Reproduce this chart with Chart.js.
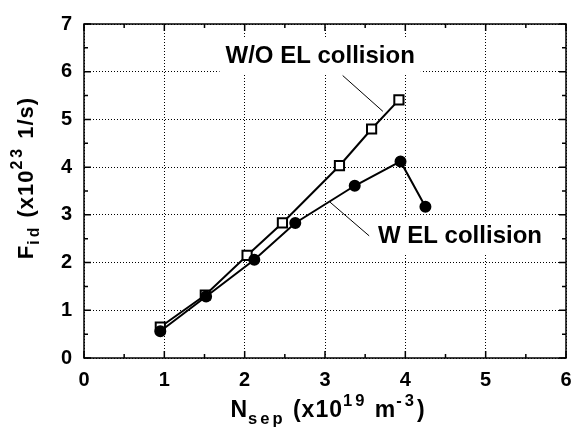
<!DOCTYPE html>
<html>
<head>
<meta charset="utf-8">
<script src="https://cdn.jsdelivr.net/npm/chart.js@4.4.1/dist/chart.umd.min.js"></script>
<style>
    html, body { margin: 0; padding: 0; background: #fff; }
</style>
</head>
<body>
<canvas id="chart" width="584" height="432"></canvas>
<script>
/* ---------- data ---------- */
var nsepWithout = [0.95, 1.51, 2.03, 2.47, 3.18, 3.58, 3.92];
var fidWithout  = [0.65, 1.32, 2.15, 2.83, 4.03, 4.80, 5.41];
var nsepWith    = [0.95, 1.52, 2.12, 2.63, 3.37, 3.94, 4.25];
var fidWith     = [0.56, 1.29, 2.06, 2.83, 3.61, 4.12, 3.17];
var xTickValues = [0, 1, 2, 3, 4, 5, 6];
var yTickValues = [0, 1, 2, 3, 4, 5, 6, 7];
var seriesLabels = ['W/O EL collision', 'W EL collision'];

var FONT = '"Liberation Sans", Arial, Helvetica, sans-serif';

function toPoints(xs, ys) {
    return xs.map(function (x, i) { return { x: x, y: ys[i] }; });
}

// annotation labels and leader lines, anchored in data units
var notes = [
    { text: seriesLabels[0], x: 2.94, y: 6.35, from: [3.22, 5.92], to: [3.72, 5.17] },
    { text: seriesLabels[1], x: 4.68, y: 2.58, from: [3.06, 3.27], to: [3.55, 2.56] }
];

/* ---------- rich text helper (sub / superscripts) ---------- */
function drawRich(ctx, parts, cx, cy, size, angle) {
    ctx.save();
    ctx.translate(cx, cy);
    ctx.rotate(angle || 0);
    ctx.textBaseline = 'middle';
    ctx.textAlign = 'left';
    ctx.fillStyle = '#000';
    var total = 0;
    parts.forEach(function (p) {
        p.fs = p.k === 'n' ? size : size * 0.72;
        p.gap = p.k === 'n' ? 1 : 3;
        ctx.font = 'bold ' + p.fs + 'px ' + FONT;
        p.w = 0;
        p.t.split('').forEach(function (ch) { p.w += ctx.measureText(ch).width + p.gap; });
        total += p.w;
    });
    var x = -total / 2;
    parts.forEach(function (p) {
        ctx.font = 'bold ' + p.fs + 'px ' + FONT;
        var dy = p.k === 'sub' ? size * 0.36 : (p.k === 'sup' ? -size * 0.42 : 0);
        p.t.split('').forEach(function (ch) {
            ctx.fillText(ch, x, dy);
            x += ctx.measureText(ch).width + p.gap;
        });
    });
    ctx.restore();
}

/* ---------- plugin: labels, frame, minor ticks, titles ---------- */
var decor = {
    id: 'figDecor',
    afterDraw: function (chart) {
        var ctx = chart.ctx, a = chart.chartArea;
        var xs = chart.scales.x, ys = chart.scales.y;

        ctx.save();
        ctx.font = 'bold 24px ' + FONT;
        ctx.textAlign = 'center';
        ctx.textBaseline = 'middle';
        notes.forEach(function (n) {
            var px = xs.getPixelForValue(n.x), py = ys.getPixelForValue(n.y);
            var w = ctx.measureText(n.text).width;
            ctx.fillStyle = '#fff';
            ctx.fillRect(px - w / 2 - 6, py - 17, w + 12, 36);
            ctx.fillStyle = '#000';
            ctx.fillText(n.text, px, py + 1);
            ctx.beginPath();
            ctx.lineWidth = 1;
            ctx.strokeStyle = '#000';
            ctx.moveTo(xs.getPixelForValue(n.from[0]), ys.getPixelForValue(n.from[1]));
            ctx.lineTo(xs.getPixelForValue(n.to[0]), ys.getPixelForValue(n.to[1]));
            ctx.stroke();
        });

        ctx.strokeStyle = '#000';
        ctx.lineWidth = 1.5;
        ctx.strokeRect(a.left, a.top, a.right - a.left, a.bottom - a.top);
        ctx.beginPath();
        var v, p, len;
        for (v = 0; v <= 6; v += 0.5) {
            p = xs.getPixelForValue(v);
            len = v % 1 === 0 ? 7 : 4;
            ctx.moveTo(p, a.bottom); ctx.lineTo(p, a.bottom - len);
            ctx.moveTo(p, a.top); ctx.lineTo(p, a.top + len);
        }
        for (v = 0; v <= 7; v += 0.5) {
            p = ys.getPixelForValue(v);
            len = v % 1 === 0 ? 7 : 4;
            ctx.moveTo(a.left, p); ctx.lineTo(a.left + len, p);
            ctx.moveTo(a.right, p); ctx.lineTo(a.right - len, p);
        }
        ctx.stroke();
        ctx.restore();

        drawRich(ctx, [
            { t: 'N', k: 'n' }, { t: 'sep', k: 'sub' }, { t: ' (x10', k: 'n' },
            { t: '19', k: 'sup' }, { t: ' m', k: 'n' }, { t: '-3', k: 'sup' }, { t: ')', k: 'n' }
        ], (a.left + a.right) / 2 + 3, 411, 23, 0);

        drawRich(ctx, [
            { t: 'F', k: 'n' }, { t: 'id', k: 'sub' }, { t: ' (x10', k: 'n' },
            { t: '23', k: 'sup' }, { t: ' 1/s)', k: 'n' }
        ], 27, 178, 22, -Math.PI / 2);
    }
};

/* ---------- chart ---------- */
var tickFont = { family: FONT, size: 20, weight: 'bold' };

new Chart(document.getElementById('chart'), {
    type: 'scatter',
    data: {
        datasets: [
            {
                label: seriesLabels[1],
                data: toPoints(nsepWith, fidWith),
                showLine: true,
                borderColor: '#000',
                borderWidth: 2,
                pointStyle: 'circle',
                pointRadius: 5,
                backgroundColor: '#000'
            },
            {
                label: seriesLabels[0],
                data: toPoints(nsepWithout, fidWithout),
                showLine: true,
                borderColor: '#000',
                borderWidth: 2,
                pointStyle: 'rect',
                pointRadius: 6.5,
                backgroundColor: '#fff'
            }
        ]
    },
    options: {
        responsive: false,
        animation: false,
        layout: { padding: { top: 13, right: 18, left: 0, bottom: 0 } },
        plugins: { legend: { display: false } },
        scales: {
            x: {
                min: 0, max: 6,
                afterFit: function (s) { s.height = 74; },
                grid: { color: '#000', lineWidth: 1, drawTicks: false },
                border: { display: false, dash: [1, 2] },
                ticks: { font: tickFont, color: '#000', padding: 10, stepSize: 1 }
            },
            y: {
                min: 0, max: 7,
                afterFit: function (s) { s.width = 84; },
                grid: { color: '#000', lineWidth: 1, drawTicks: false },
                border: { display: false, dash: [1, 2] },
                ticks: { font: tickFont, color: '#000', padding: 12, stepSize: 1 }
            }
        }
    },
    plugins: [decor]
});
</script>
</body>
</html>
